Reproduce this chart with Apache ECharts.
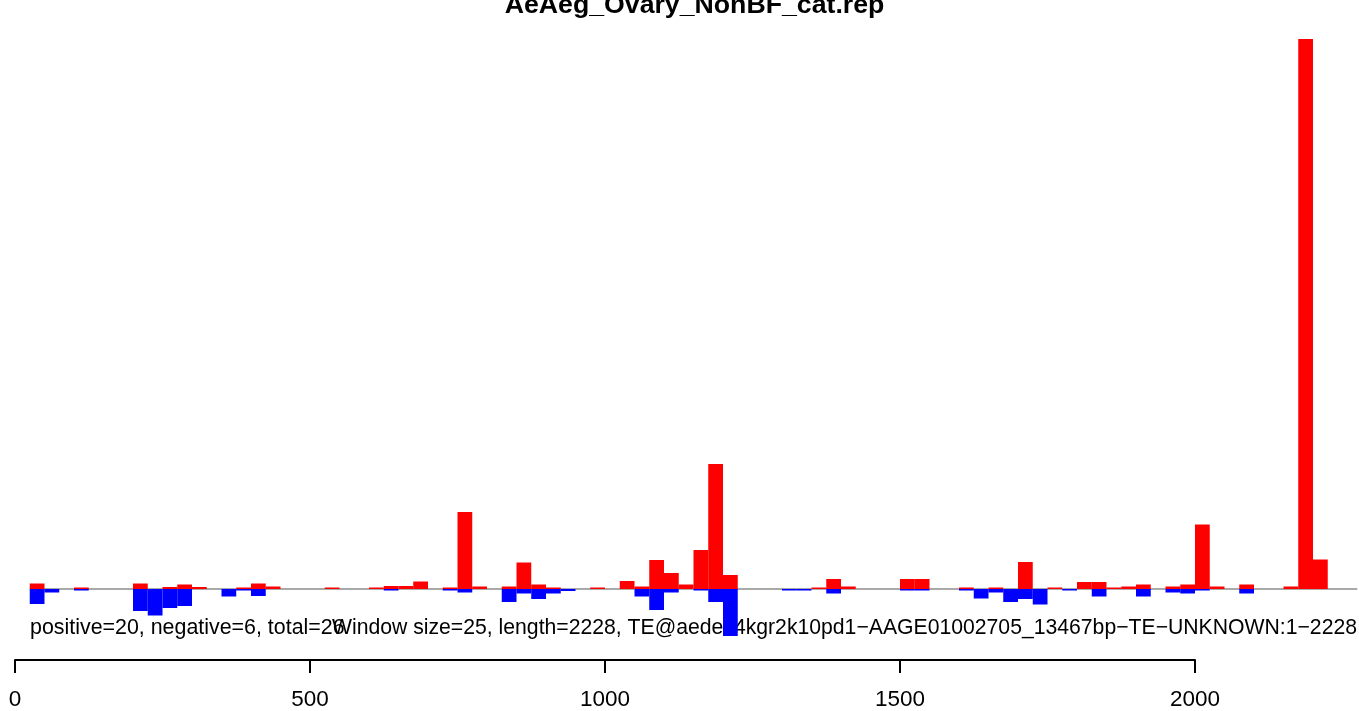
<!DOCTYPE html>
<html>
<head>
<meta charset="utf-8">
<script src="https://cdn.jsdelivr.net/npm/echarts@6/dist/echarts.min.js"></script>
<style>
html,body{margin:0;padding:0;background:#fff;}
#chart{width:1359px;height:711px;}
</style>
</head>
<body>
<div id="chart"></div>
<script>
// ---- data ----
const windowSize = 25;
const seqLength = 2228;
const titleText = 'AeAeg_Ovary_NonBF_cat.rep';
const leftNote = 'positive=20, negative=6, total=26';
const rightNote = 'Window size=25, length=2228, TE@aedes4kgr2k10pd1\u2212AAGE01002705_13467bp\u2212TE\u2212UNKNOWN:1\u22122228';
const tickValues = [0, 500, 1000, 1500, 2000];

// per-window heights (window k covers k*25 .. k*25+25)
const positiveValues = [
  0, 5.5, 0, 0, 1.5, 0, 0, 0, 5.5, 0,
  2, 4.5, 2, 0, 0, 1.5, 5.5, 2.5, 0, 0,
  0, 1.5, 0, 0, 1.5, 3, 3, 7.5, 0, 1.5,
  77, 2.5, 0, 2.5, 26.5, 4.5, 1.5, 0, 0, 1.5,
  0, 8, 2.5, 29, 16, 4.5, 39, 125, 14, 0,
  0, 0, 0, 0, 1.5, 10, 2.5, 0, 0, 0,
  10, 10, 0, 0, 1.5, 0, 1.5, 0, 27, 0,
  1.5, 0, 7, 7, 1.5, 2.5, 4.5, 0, 2.5, 4.5,
  64.5, 2.5, 0, 4.5, 0, 0, 2.5, 550, 29.5
];
const negativeValues = [
  0, -15, -3.5, 0, -1.5, 0, 0, 0, -22, -26.5,
  -19, -17, 0, 0, -7.5, -1.5, -7, 0, 0, 0,
  0, 0, 0, 0, 0, -1.5, 0, 0, 0, -1.5,
  -3.5, 0, 0, -13, -4.5, -10, -4.5, -2, 0, 0,
  0, 0, -7.5, -21, -3.5, 0, -1.5, -13, -47, 0,
  0, 0, -1.5, -1.5, 0, -4.5, 0, 0, 0, 0,
  -1.5, -1.5, 0, 0, -1.5, -9.5, -3.5, -13, -10, -15.5,
  0, -1.5, 0, -7.5, 0, 0, -7.5, 0, -3.5, -4.5,
  -1.5, 0, 0, -4.5, 0, 0, 0, 0, 0
];

const toData = arr => arr.map((v, k) => [k * windowSize, v]).filter(d => d[1] !== 0);

function rectRenderer(color) {
  return function (params, api) {
    const s = api.value(0), v = api.value(1);
    const p0 = api.coord([s, 0]);
    const p1 = api.coord([s + windowSize, v]);
    return {
      type: 'rect',
      shape: {
        x: p0[0],
        y: Math.min(p0[1], p1[1]),
        width: p1[0] - p0[0],
        height: Math.abs(p1[1] - p0[1])
      },
      style: { fill: color }
    };
  };
}

const chart = echarts.init(document.getElementById('chart'), null, { renderer: 'canvas' });
const FONT = '"Liberation Sans", Arial, Helvetica, sans-serif';

chart.setOption({
  animation: false,
  backgroundColor: '#ffffff',
  grid: [
    { left: 15, right: 1.75, top: 39, bottom: 75 },
    { left: 15, width: 1180, bottom: 51, height: 10 }
  ],
  xAxis: [
    { gridIndex: 0, type: 'value', min: 0, max: 2275, show: false },
    {
      gridIndex: 1, type: 'value', min: 0, max: 2000, interval: 500,
      axisLine: { show: true, lineStyle: { color: '#000', width: 2 } },
      axisTick: { show: true, length: 13, lineStyle: { color: '#000', width: 2 }, customValues: tickValues },
      splitLine: { show: false },
      axisLabel: {
        color: '#000', fontSize: 22.5, fontFamily: FONT, margin: 28,
        customValues: tickValues,
        formatter: v => String(v)
      }
    }
  ],
  yAxis: [
    { gridIndex: 0, type: 'value', min: -47, max: 550, show: false },
    { gridIndex: 1, type: 'value', show: false }
  ],
  graphic: [
    {
      type: 'text', z: 0, x: 694.5, y: 5.5,
      style: { text: titleText, font: 'bold 26.7px ' + FONT, fill: '#000', textAlign: 'center', textVerticalAlign: 'middle' }
    },
    {
      type: 'text', z: 0, x: 30, y: 628,
      style: { text: leftNote, font: '21.4px ' + FONT, fill: '#000', textAlign: 'left', textVerticalAlign: 'middle' }
    },
    {
      type: 'text', z: 0, x: 1357, y: 628,
      style: { text: rightNote, font: '21.2px ' + FONT, fill: '#000', textAlign: 'right', textVerticalAlign: 'middle' }
    }
  ],
  series: [
    {
      type: 'line', xAxisIndex: 0, yAxisIndex: 0, z: 1,
      data: [[windowSize, 0], [2275, 0]],
      symbol: 'none', silent: true,
      lineStyle: { color: '#8c8c8c', width: 1.5 }
    },
    {
      type: 'custom', xAxisIndex: 0, yAxisIndex: 0, z: 3,
      renderItem: rectRenderer('#ff0000'),
      data: toData(positiveValues)
    },
    {
      type: 'custom', xAxisIndex: 0, yAxisIndex: 0, z: 3,
      renderItem: rectRenderer('#0000ff'),
      data: toData(negativeValues)
    }
  ]
});
</script>
</body>
</html>
